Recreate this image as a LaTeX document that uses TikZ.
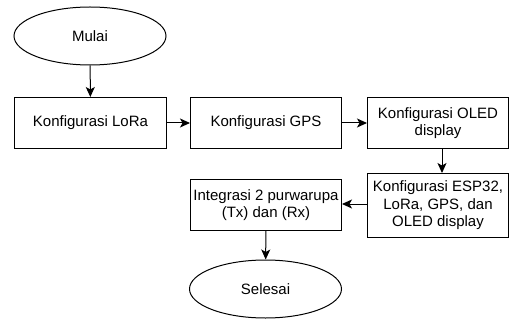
\documentclass[tikz,border=0pt]{standalone}
\usepackage{fontspec}
\setmainfont{Liberation Sans}
\usetikzlibrary{shapes.geometric,arrows.meta}
\begin{document}
\begin{tikzpicture}[x=1pt,y=-1pt,
  every node/.style={font=\fontsize{15}{17.5}\selectfont, align=center, inner sep=0pt},
  procbox/.style={draw, line width=1pt, anchor=north west},
  term/.style={draw, ellipse, line width=1pt},
  flow/.style={draw, line width=1pt, -{Stealth[length=10pt,width=9pt,inset=2.5pt]}}]
\useasboundingbox (0,0) rectangle (510,320);
\node[term, minimum width=152pt, minimum height=58pt] (mulai) at (90,36) {Mulai};
\node[procbox, minimum width=152pt, minimum height=51pt] (lora) at (14,97) {Konfigurasi LoRa};
\node[procbox, minimum width=151pt, minimum height=51pt] (gps) at (190,97) {Konfigurasi GPS};
\node[procbox, minimum width=141pt, minimum height=51pt] (oled) at (367,97) {Konfigurasi OLED\\display};
\node[procbox, minimum width=141pt, minimum height=64pt] (esp) at (367,173) {Konfigurasi ESP32,\\LoRa, GPS, dan\\OLED display};
\node[procbox, minimum width=151pt, minimum height=51pt] (integ) at (190,179) {Integrasi 2 purwarupa\\(Tx) dan (Rx)};
\node[term, minimum width=152pt, minimum height=58pt] (selesai) at (265.5,289) {Selesai};
\draw[flow] (mulai) -- (lora);
\draw[flow] (lora) -- (gps);
\draw[flow] (gps) -- (oled);
\draw[flow] (oled.south -| 442,0) -- (esp.north -| 442,0);
\draw[flow] (esp.west |- 0,204) -- (integ.east |- 0,204);
\draw[flow] (integ) -- (selesai);
\end{tikzpicture}
\end{document}
